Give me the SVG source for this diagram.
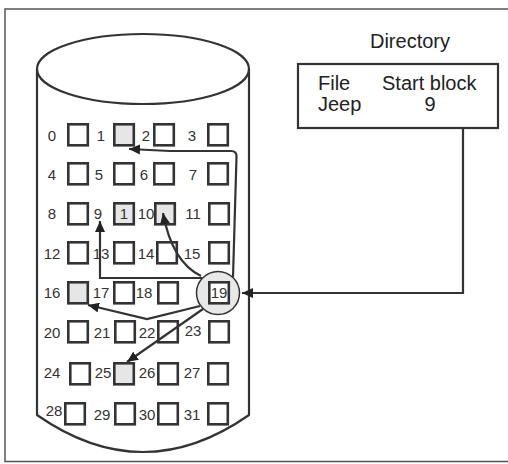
<svg xmlns="http://www.w3.org/2000/svg" width="508" height="464" viewBox="0 0 508 464">
<style>
.t{font-family:"Liberation Sans",Arial,sans-serif;font-size:15px;fill:#333}
.d{font-family:"Liberation Sans",Arial,sans-serif;font-size:20px;fill:#222}
.b{fill:#fff;stroke:#333;stroke-width:2.6}
.s{fill:#e6e6e6;stroke:#333;stroke-width:2.6}
.c{fill:none;stroke:#333;stroke-width:2.2;stroke-linejoin:round}
.ln{fill:none;stroke:#333;stroke-width:2.2}
</style>
<defs>
<marker id="ah" markerUnits="userSpaceOnUse" markerWidth="12" markerHeight="10" refX="11" refY="5" orient="auto">
<path d="M0,0 L11,5 L0,10 Z" fill="#222"/>
</marker>
</defs>
<rect x="5" y="9" width="512" height="452.5" fill="#fff" stroke="#555" stroke-width="1.5"/>
<g id="cylinder">
<path class="c" d="M37,69 L37,415 Q143,489 249,415 L249,69"/>
<ellipse cx="143" cy="69" rx="106" ry="35" class="c" fill="#fff"/>
</g>
<g id="directory">
<text class="d" x="410" y="48" text-anchor="middle">Directory</text>
<rect x="298" y="64" width="200" height="64" fill="#fff" stroke="#333" stroke-width="2.2"/>
<text class="d" x="318" y="90">File</text>
<text class="d" x="382" y="90">Start block</text>
<text class="d" x="318" y="111">Jeep</text>
<text class="d" x="430" y="111" text-anchor="middle">9</text>
</g>
<g id="circle19"><circle cx="218" cy="293" r="21.5" fill="#e8e8e8" stroke="#333" stroke-width="1.5"/></g>
<g id="b0"><rect class="b" x="68.3" y="124.3" width="19.5" height="21"/><text class="t" x="52" y="141" text-anchor="middle">0</text></g>
<g id="b1"><rect class="s" x="114.3" y="124.3" width="19.5" height="21"/><text class="t" x="101" y="141" text-anchor="middle">1</text></g>
<g id="b2"><rect class="b" x="154.3" y="124.3" width="19.5" height="21"/><text class="t" x="146" y="141" text-anchor="middle">2</text></g>
<g id="b3"><rect class="b" x="208.3" y="124.3" width="19.5" height="21"/><text class="t" x="192" y="141" text-anchor="middle">3</text></g>
<g id="b4"><rect class="b" x="68.3" y="163.3" width="19.5" height="21"/><text class="t" x="52" y="180" text-anchor="middle">4</text></g>
<g id="b5"><rect class="b" x="114.3" y="163.3" width="19.5" height="21"/><text class="t" x="99" y="180" text-anchor="middle">5</text></g>
<g id="b6"><rect class="b" x="154.3" y="163.3" width="19.5" height="21"/><text class="t" x="144" y="180" text-anchor="middle">6</text></g>
<g id="b7"><rect class="b" x="208.3" y="163.3" width="19.5" height="21"/><text class="t" x="193" y="180" text-anchor="middle">7</text></g>
<g id="b8"><rect class="b" x="68.3" y="203.3" width="19.5" height="21"/><text class="t" x="52" y="219" text-anchor="middle">8</text></g>
<g id="b9"><rect class="s" x="114.3" y="203.3" width="19.5" height="21"/><text class="t" x="98" y="219" text-anchor="middle">9</text><text class="t" x="124" y="219" text-anchor="middle">1</text></g>
<g id="b10"><rect class="s" x="155.3" y="203.3" width="19.5" height="21"/><text class="t" x="146" y="219" text-anchor="middle">10</text></g>
<g id="b11"><rect class="b" x="209.3" y="203.3" width="19.5" height="21"/><text class="t" x="193" y="219" text-anchor="middle">11</text></g>
<g id="b12"><rect class="b" x="68.3" y="242.3" width="19.5" height="21"/><text class="t" x="52" y="259" text-anchor="middle">12</text></g>
<g id="b13"><rect class="b" x="114.3" y="242.3" width="19.5" height="21"/><text class="t" x="101" y="259" text-anchor="middle">13</text></g>
<g id="b14"><rect class="b" x="157.3" y="242.3" width="19.5" height="21"/><text class="t" x="146" y="259" text-anchor="middle">14</text></g>
<g id="b15"><rect class="b" x="209.3" y="242.3" width="19.5" height="21"/><text class="t" x="192" y="259" text-anchor="middle">15</text></g>
<g id="b16"><rect class="s" x="68.3" y="282.3" width="19.5" height="21"/><text class="t" x="52" y="298" text-anchor="middle">16</text></g>
<g id="b17"><rect class="b" x="114.3" y="282.3" width="19.5" height="21"/><text class="t" x="101" y="298" text-anchor="middle">17</text></g>
<g id="b18"><rect class="b" x="158.3" y="282.3" width="19.5" height="21"/><text class="t" x="144" y="298" text-anchor="middle">18</text></g>
<g id="b19"><rect class="b" x="209.3" y="282.3" width="19.5" height="21"/><text class="t" x="219" y="298" text-anchor="middle">19</text></g>
<g id="b20"><rect class="b" x="68.3" y="321.3" width="19.5" height="21"/><text class="t" x="52" y="338" text-anchor="middle">20</text></g>
<g id="b21"><rect class="b" x="115.3" y="321.3" width="19.5" height="21"/><text class="t" x="102" y="338" text-anchor="middle">21</text></g>
<g id="b22"><rect class="b" x="158.3" y="321.3" width="19.5" height="21"/><text class="t" x="147" y="338" text-anchor="middle">22</text></g>
<g id="b23"><rect class="b" x="209.3" y="321.3" width="19.5" height="21"/><text class="t" x="193" y="336" text-anchor="middle">23</text></g>
<g id="b24"><rect class="b" x="70.3" y="363.3" width="19.5" height="21"/><text class="t" x="52" y="378" text-anchor="middle">24</text></g>
<g id="b25"><rect class="s" x="114.3" y="363.3" width="19.5" height="21"/><text class="t" x="103" y="378" text-anchor="middle">25</text></g>
<g id="b26"><rect class="b" x="158.3" y="363.3" width="19.5" height="21"/><text class="t" x="147" y="378" text-anchor="middle">26</text></g>
<g id="b27"><rect class="b" x="208.3" y="363.3" width="19.5" height="21"/><text class="t" x="192" y="378" text-anchor="middle">27</text></g>
<g id="b28"><rect class="b" x="65.3" y="403.3" width="19.5" height="21"/><text class="t" x="54" y="416" text-anchor="middle">28</text></g>
<g id="b29"><rect class="b" x="115.3" y="403.3" width="19.5" height="21"/><text class="t" x="102" y="420" text-anchor="middle">29</text></g>
<g id="b30"><rect class="b" x="158.3" y="403.3" width="19.5" height="21"/><text class="t" x="147" y="420" text-anchor="middle">30</text></g>
<g id="b31"><rect class="b" x="208.3" y="403.3" width="19.5" height="21"/><text class="t" x="192" y="420" text-anchor="middle">31</text></g>
<g id="connectors">
<path class="ln" d="M463,128 L463,293 L242,293" marker-end="url(#ah)"/>
<path class="ln" d="M233,277 L236.5,157 Q237,151 231,151 L170,151 Q150,150 129,149" marker-end="url(#ah)"/>
<path class="ln" d="M202,278 L100,278 L100,221" marker-end="url(#ah)"/>
<path class="ln" d="M201,276 Q172,262 163,213" marker-end="url(#ah)"/>
<path class="ln" d="M200,306 L147,319 L88,305" marker-end="url(#ah)"/>
<path class="ln" d="M203,309 L127,362" marker-end="url(#ah)"/>
</g>
</svg>
